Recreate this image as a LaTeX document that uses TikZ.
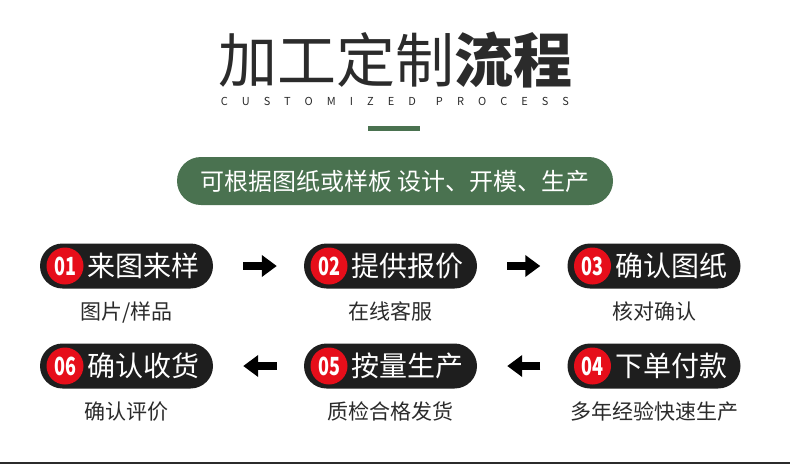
\documentclass[tikz,border=0pt]{standalone}
\usepackage{fontspec}
\usepackage{graphicx}
\usetikzlibrary{arrows.meta,positioning}
\newfontfamily\cjk{Noto Sans CJK SC}
\definecolor{leaf}{HTML}{4A7250}
\definecolor{ink}{HTML}{1E1E1E}
\definecolor{dotred}{HTML}{E60E1A}
\definecolor{darktxt}{HTML}{2B2B2B}
\tikzset{
  pill/.style    ={fill=ink, rounded corners=22.5pt, minimum width=173pt,
                   minimum height=45pt, inner sep=0pt},
  numdot/.style  ={circle, fill=dotred, minimum size=37pt, inner sep=0pt,
                   text=white, font=\cjk\bfseries\fontsize{25}{25}\selectfont},
  stepname/.style={inner sep=0pt, text=white,
                   font=\cjk\fontsize{28}{28}\selectfont},
  subtxt/.style  ={inner sep=0pt, text=darktxt,
                   font=\cjk\fontsize{21}{21}\selectfont},
  flow/.style    ={line width=8pt, -{Triangle[length=15pt,width=21pt]}},
  flowR/.style   ={flow, shorten <=30pt, shorten >=27pt},
  flowL/.style   ={flow, shorten <=27pt, shorten >=30pt},
}

\begin{document}
\begin{tikzpicture}[x=1pt,y=-1pt]
  \useasboundingbox[fill=white] (0,0) rectangle (790,464);
  % heading
  \node[text=darktxt, inner sep=0pt, font=\cjk\fontsize{59}{59}\selectfont] (head) at (395,60)
    {加工定制{\bfseries 流程}};
  \node[text=darktxt, inner sep=0pt,
        font=\cjk\fontsize{11}{11}\selectfont\addfontfeature{LetterSpace=128}] (sub) at (395,101)
    {CUSTOMIZED\hspace{20pt}PROCESS};
  \fill[leaf] (368,126) rectangle (420,131);
  \node[fill=leaf, rounded corners=24pt, minimum width=436pt, minimum height=48pt,
        text=white, font=\cjk\fontsize{24}{24}\selectfont] (lead) at (395,181)
    {可根据图纸或样板 设计、开模、生产};

  % steps
  \node[pill] (p1) at (126.5,266) {};
  \node[pill] (p2) at (390.5,266) {};
  \node[pill] (p3) at (654,266) {};
  \node[pill] (p6) at (126.5,366) {};
  \node[pill] (p5) at (390.5,366) {};
  \node[pill] (p4) at (654,366) {};

  \node[numdot, right=6.5pt of p1.west] (n1) {\scalebox{0.72}[1]{01}};
  \node[numdot, right=6.5pt of p2.west] (n2) {\scalebox{0.72}[1]{02}};
  \node[numdot, right=6.5pt of p3.west] (n3) {\scalebox{0.72}[1]{03}};
  \node[numdot, right=6.5pt of p4.west] (n4) {\scalebox{0.72}[1]{04}};
  \node[numdot, right=6.5pt of p5.west] (n5) {\scalebox{0.72}[1]{05}};
  \node[numdot, right=6.5pt of p6.west] (n6) {\scalebox{0.72}[1]{06}};

  \node[stepname, right=4pt of n1] (t1) {来图来样};
  \node[stepname, right=4pt of n2] (t2) {提供报价};
  \node[stepname, right=4pt of n3] (t3) {确认图纸};
  \node[stepname, right=4pt of n4] (t4) {下单付款};
  \node[stepname, right=4pt of n5] (t5) {按量生产};
  \node[stepname, right=4pt of n6] (t6) {确认收货};

  \node[subtxt, below=12.5pt of p1] (s1) {图片/样品};
  \node[subtxt, below=12.5pt of p2] (s2) {在线客服};
  \node[subtxt, below=12.5pt of p3] (s3) {核对确认};
  \node[subtxt, below=12.5pt of p4] (s4) {多年经验快速生产};
  \node[subtxt, below=12.5pt of p5] (s5) {质检合格发货};
  \node[subtxt, below=12.5pt of p6] (s6) {确认评价};

  \draw[flowR] (p1) -- (p2);
  \draw[flowR] (p2) -- (p3);
  \draw[flowL] (p4) -- (p5);
  \draw[flowL] (p5) -- (p6);

  % bottom rule
  \draw[darktxt, line width=2pt] (0,463) -- (790,463);
\end{tikzpicture}
\end{document}
